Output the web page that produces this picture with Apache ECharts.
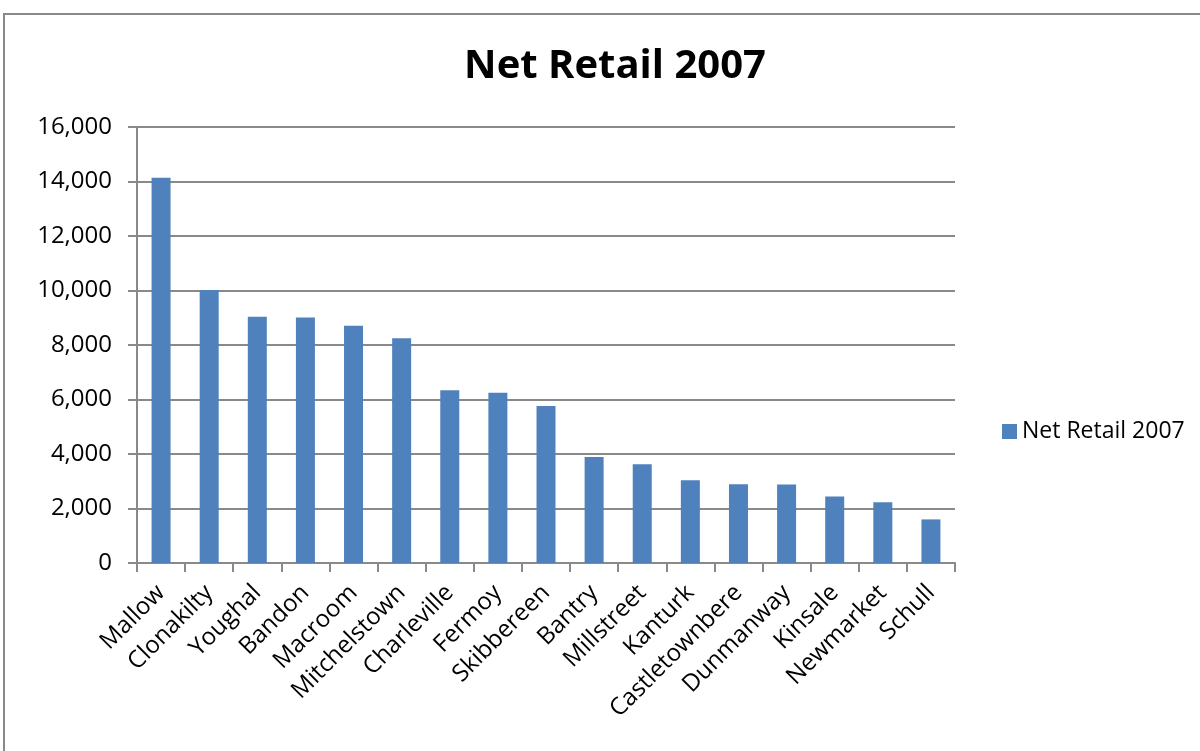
<!DOCTYPE html>
<html>
<head>
<meta charset="utf-8">
<script src="https://cdn.jsdelivr.net/npm/echarts@6/dist/echarts.min.js"></script>
<style>
  html, body { margin: 0; padding: 0; background: #fff; }
  #chartmain { width: 1200px; height: 751px; }
</style>
</head>
<body>
<div id="chartmain"></div>
<script>
var towns = ['Mallow', 'Clonakilty', 'Youghal', 'Bandon', 'Macroom', 'Mitchelstown', 'Charleville',
    'Fermoy', 'Skibbereen', 'Bantry', 'Millstreet', 'Kanturk', 'Castletownbere', 'Dunmanway',
    'Kinsale', 'Newmarket', 'Schull'];
var netRetail2007 = [14140, 10020, 9040, 9010, 8710, 8250, 6340, 6250, 5760, 3890, 3620, 3040,
    2890, 2880, 2440, 2230, 1600];
var seriesName = 'Net Retail 2007';

var fontFamily = '"Open Sans", sans-serif';
var gray = '#898989';

var chart = echarts.init(document.getElementById('chartmain'), null, { renderer: 'canvas' });
chart.setOption({
    animation: false,
    textStyle: { fontFamily: fontFamily },
    graphic: [{
        type: 'rect',
        shape: { x: 4, y: 14, width: 1300, height: 900 },
        style: { fill: 'none', stroke: gray, lineWidth: 2 }
    }],
    title: {
        text: 'Net Retail 2007',
        left: 610,
        textAlign: 'center',
        top: 42,
        textStyle: { fontFamily: fontFamily, fontWeight: 'bold', fontSize: 40, color: '#000' }
    },
    legend: {
        data: [seriesName],
        left: 997,
        top: 415,
        icon: 'rect',
        itemWidth: 15,
        itemHeight: 15,
        itemGap: 6,
        textStyle: { fontFamily: fontFamily, fontSize: 23, color: '#000' }
    },
    grid: { left: 137, right: 245, top: 127, bottom: 188 },
    xAxis: {
        type: 'category',
        data: towns,
        axisLine: { lineStyle: { color: gray, width: 2 } },
        axisTick: { show: true, length: 9, lineStyle: { color: gray, width: 2 } },
        axisLabel: { rotate: 45, fontSize: 24, color: '#000', margin: 26, interval: 0 }
    },
    yAxis: {
        type: 'value',
        min: 0,
        max: 16000,
        interval: 2000,
        axisLine: { show: true, lineStyle: { color: gray, width: 2 } },
        axisTick: { show: true, length: 9, lineStyle: { color: gray, width: 2 } },
        splitLine: { lineStyle: { color: gray, width: 2 } },
        axisLabel: {
            fontSize: 24,
            color: '#000',
            margin: 25,
            formatter: function (v) { return v.toLocaleString('en-US'); }
        }
    },
    series: [{
        name: seriesName,
        type: 'bar',
        data: netRetail2007,
        barWidth: 19,
        itemStyle: { color: '#4F81BD' }
    }]
});
</script>
</body>
</html>
